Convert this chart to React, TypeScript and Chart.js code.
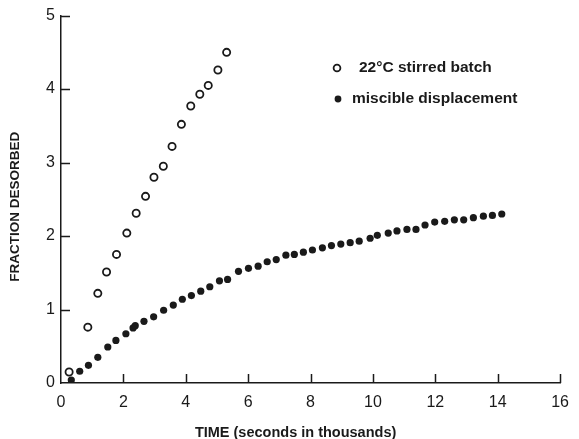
import React, { useEffect, useRef } from "react";
import { Chart, registerables } from "chart.js";

Chart.register(...registerables);

// 22°C stirred batch (open circles)
const batchTime = [0.26, 0.86, 1.18, 1.46, 1.78, 2.11, 2.41, 2.71, 2.98, 3.28, 3.56, 3.86, 4.16, 4.45, 4.72, 5.03, 5.31];
const batchFraction = [0.15, 0.76, 1.22, 1.51, 1.75, 2.04, 2.31, 2.54, 2.8, 2.95, 3.22, 3.52, 3.77, 3.93, 4.05, 4.26, 4.5];

// miscible displacement (filled circles)
const dispTime = [0.33, 0.6, 0.88, 1.18, 1.5, 1.76, 2.08, 2.31, 2.38, 2.66, 2.97, 3.29, 3.6, 3.89, 4.18, 4.48, 4.77, 5.08, 5.34, 5.69, 6.01, 6.32, 6.61, 6.9, 7.21, 7.48, 7.77, 8.06, 8.38, 8.67, 8.97, 9.27, 9.56, 9.91, 10.14, 10.49, 10.77, 11.09, 11.38, 11.67, 11.98, 12.3, 12.61, 12.91, 13.22, 13.54, 13.83, 14.13];
const dispFraction = [0.04, 0.16, 0.24, 0.35, 0.49, 0.58, 0.67, 0.75, 0.78, 0.84, 0.9, 0.99, 1.06, 1.14, 1.19, 1.25, 1.31, 1.39, 1.41, 1.52, 1.56, 1.59, 1.65, 1.68, 1.74, 1.75, 1.78, 1.81, 1.84, 1.87, 1.89, 1.91, 1.93, 1.97, 2.01, 2.04, 2.07, 2.09, 2.09, 2.15, 2.19, 2.2, 2.22, 2.22, 2.25, 2.27, 2.28, 2.3];

const xTicks = [0, 2, 4, 6, 8, 10, 12, 14, 16];
const yTicks = [0, 1, 2, 3, 4, 5];

const seriesLabels = ["22°C stirred batch", "miscible displacement"];
const xTitle = "TIME (seconds in thousands)";
const yTitle = "FRACTION DESORBED";

const INK = "#1a1a1a";
const FONT = "'Liberation Sans', Arial, Helvetica, sans-serif";

const toPoints = (xs: number[], ys: number[]) => xs.map((x, i) => ({ x, y: ys[i] }));

const innerTicks = {
  id: "innerTicks",
  afterDraw(chart: any) {
    const { ctx, chartArea, scales } = chart;
    ctx.save();
    ctx.strokeStyle = INK;
    ctx.lineWidth = 1.5;
    ctx.beginPath();
    for (const v of yTicks) {
      if (v === 0) continue;
      const y = Math.round(scales.y.getPixelForValue(v)) + 0.5;
      ctx.moveTo(chartArea.left, y);
      ctx.lineTo(chartArea.left + 9, y);
    }
    for (const v of xTicks) {
      if (v === 0) continue;
      const x = Math.round(scales.x.getPixelForValue(v)) + 0.5;
      ctx.moveTo(x, chartArea.bottom);
      ctx.lineTo(x, chartArea.bottom - 9);
    }
    ctx.stroke();
    ctx.restore();
  },
};

const annotations = {
  id: "annotations",
  afterDraw(chart: any) {
    const { ctx, chartArea } = chart;
    ctx.save();
    ctx.fillStyle = INK;
    ctx.strokeStyle = INK;
    ctx.textBaseline = "middle";
    // legend
    ctx.font = `bold 15.5px ${FONT}`;
    ctx.textAlign = "left";
    ctx.beginPath();
    ctx.arc(337, 68, 3.4, 0, Math.PI * 2);
    ctx.lineWidth = 1.8;
    ctx.stroke();
    ctx.fillText(seriesLabels[0], 359, 68);
    ctx.beginPath();
    ctx.arc(338, 99, 3.4, 0, Math.PI * 2);
    ctx.fill();
    ctx.fillText(seriesLabels[1], 352, 99);
    // axis titles
    ctx.textAlign = "center";
    ctx.font = `bold 14.5px ${FONT}`;
    ctx.fillText(xTitle, chartArea.left + (chartArea.right - chartArea.left) * 0.47, 433);
    ctx.font = `bold 13.5px ${FONT}`;
    ctx.translate(15, chartArea.top + (chartArea.bottom - chartArea.top) * 0.52);
    ctx.rotate(-Math.PI / 2);
    ctx.fillText(yTitle, 0, 0);
    ctx.restore();
  },
};

export default function App() {
  const ref = useRef<HTMLCanvasElement | null>(null);

  useEffect(() => {
    if (!ref.current) return;
    const chart = new Chart(ref.current, {
      type: "scatter",
      data: {
        datasets: [
          {
            label: seriesLabels[0],
            data: toPoints(batchTime, batchFraction),
            pointStyle: "circle",
            pointRadius: 3.6,
            pointBorderWidth: 1.8,
            pointBorderColor: INK,
            pointBackgroundColor: "#ffffff",
            showLine: false,
          },
          {
            label: seriesLabels[1],
            data: toPoints(dispTime, dispFraction),
            pointStyle: "circle",
            pointRadius: 3.6,
            pointBorderWidth: 0,
            pointBorderColor: INK,
            pointBackgroundColor: INK,
            showLine: false,
          },
        ],
      },
      options: {
        responsive: false,
        animation: false,
        layout: { padding: { left: 0, right: 12, top: 15, bottom: 0 } },
        plugins: { legend: { display: false }, tooltip: { enabled: false } },
        scales: {
          x: {
            type: "linear",
            min: 0,
            max: 16,
            afterFit: (s: any) => {
              s.height = 56;
            },
            afterBuildTicks: (s: any) => {
              s.ticks = xTicks.map((v) => ({ value: v }));
            },
            grid: { display: false, drawTicks: false },
            border: { display: true, color: INK, width: 1.5 },
            ticks: {
              padding: 10,
              color: INK,
              font: { family: FONT, size: 16 },
              maxRotation: 0,
            },
          },
          y: {
            type: "linear",
            min: 0,
            max: 5,
            afterFit: (s: any) => {
              s.width = 61;
            },
            afterBuildTicks: (s: any) => {
              s.ticks = yTicks.map((v) => ({ value: v }));
            },
            grid: { display: false, drawTicks: false },
            border: { display: true, color: INK, width: 1.5 },
            ticks: {
              padding: 6,
              color: INK,
              font: { family: FONT, size: 16 },
            },
          },
        },
      },
      plugins: [innerTicks, annotations],
    });
    return () => chart.destroy();
  }, []);

  return (
    <div style={{ position: "absolute", left: 0, top: 0, width: 579, height: 439, background: "#fff" }}>
      <canvas ref={ref} width={579} height={439} style={{ width: 579, height: 439 }} />
    </div>
  );
}
